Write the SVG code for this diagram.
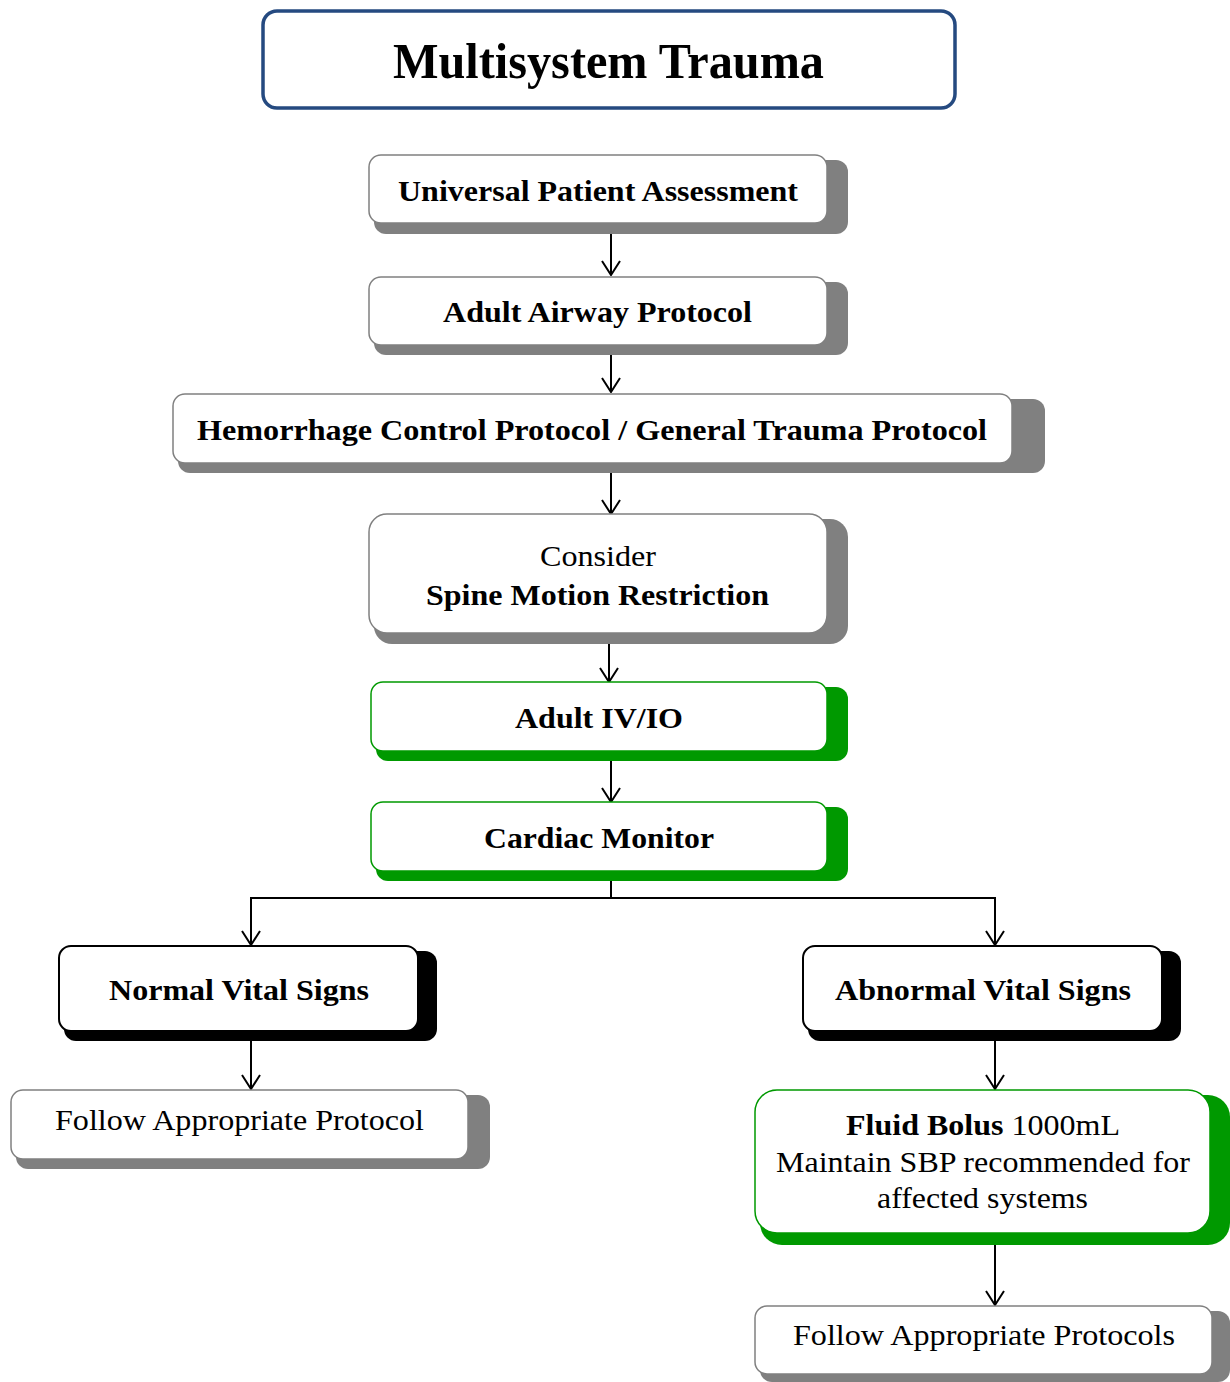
<svg xmlns="http://www.w3.org/2000/svg" width="1230" height="1382" viewBox="0 0 1230 1382">
<defs>
<style>
text{font-family:"Times New Roman","Liberation Serif",Times,serif;fill:#000;text-anchor:middle}
.b{font-weight:bold;font-size:30px}
.r{font-size:30px}
.box{fill:#fff;stroke:#808080;stroke-width:1.5}
.gbox{fill:#fff;stroke:#009900;stroke-width:1.5}
.kbox{fill:#fff;stroke:#000;stroke-width:2}
.sg{fill:#808080}
.sgr{fill:#009900}
.sk{fill:#000}
.ln{fill:none;stroke:#000;stroke-width:2}
</style>
<marker id="ar" viewBox="0 0 16 20" refX="15" refY="10" markerWidth="16" markerHeight="20" markerUnits="userSpaceOnUse" orient="auto">
<path d="M1,1 L15,10 L1,19" fill="none" stroke="#000" stroke-width="2"/>
</marker>
</defs>
<rect width="1230" height="1382" fill="#fff"/>

<g id="title">
<rect x="263" y="11" width="692" height="97" rx="14" fill="#fff" stroke="#254a80" stroke-width="3.5"/>
<text x="608.5" y="78" font-size="50" font-weight="bold" textLength="431" lengthAdjust="spacingAndGlyphs">Multisystem Trauma</text>
</g>

<g id="connectors">
<line class="ln" x1="611" y1="223" x2="611" y2="275" marker-end="url(#ar)"/>
<line class="ln" x1="611" y1="345" x2="611" y2="392" marker-end="url(#ar)"/>
<line class="ln" x1="611" y1="463" x2="611" y2="514" marker-end="url(#ar)"/>
<line class="ln" x1="609" y1="633" x2="609" y2="682" marker-end="url(#ar)"/>
<line class="ln" x1="611" y1="751" x2="611" y2="802" marker-end="url(#ar)"/>
<polyline class="ln" points="611,871 611,898 251,898 251,945" marker-end="url(#ar)"/>
<polyline class="ln" points="611,898 995,898 995,945" marker-end="url(#ar)"/>
<line class="ln" x1="251" y1="1031" x2="251" y2="1089" marker-end="url(#ar)"/>
<line class="ln" x1="995" y1="1031" x2="995" y2="1089" marker-end="url(#ar)"/>
<line class="ln" x1="995" y1="1233" x2="995" y2="1305" marker-end="url(#ar)"/>
</g>

<g id="upa">
<rect class="sg" x="374" y="160" width="474" height="74" rx="12"/>
<rect class="box" x="369" y="155" width="458" height="68" rx="12"/>
<text class="b" x="598" y="201" textLength="400" lengthAdjust="spacingAndGlyphs">Universal Patient Assessment</text>
</g>

<g id="airway">
<rect class="sg" x="374" y="282" width="474" height="73" rx="12"/>
<rect class="box" x="369" y="277" width="458" height="68" rx="12"/>
<text class="b" x="597.5" y="322" textLength="309" lengthAdjust="spacingAndGlyphs">Adult Airway Protocol</text>
</g>

<g id="hemorrhage">
<rect class="sg" x="178" y="399" width="867" height="74" rx="12"/>
<rect class="box" x="173" y="394" width="839" height="69" rx="12"/>
<text class="b" x="592" y="440" textLength="790" lengthAdjust="spacingAndGlyphs">Hemorrhage Control Protocol / General Trauma Protocol</text>
</g>

<g id="spine">
<rect class="sg" x="374" y="519" width="474" height="125" rx="18"/>
<rect class="box" x="369" y="514" width="458" height="119" rx="18"/>
<text class="r" x="598" y="566" textLength="116" lengthAdjust="spacingAndGlyphs">Consider</text>
<text class="b" x="597.5" y="605" textLength="343" lengthAdjust="spacingAndGlyphs">Spine Motion Restriction</text>
</g>

<g id="iv">
<rect class="sgr" x="376" y="687" width="472" height="74" rx="12"/>
<rect class="gbox" x="371" y="682" width="456" height="69" rx="12"/>
<text class="b" x="599" y="728" textLength="168" lengthAdjust="spacingAndGlyphs">Adult IV/IO</text>
</g>

<g id="cardiac">
<rect class="sgr" x="376" y="807" width="472" height="74" rx="12"/>
<rect class="gbox" x="371" y="802" width="456" height="69" rx="12"/>
<text class="b" x="599" y="848" textLength="230" lengthAdjust="spacingAndGlyphs">Cardiac Monitor</text>
</g>

<g id="normal">
<rect class="sk" x="64" y="951" width="373" height="90" rx="12"/>
<rect class="kbox" x="59" y="946" width="359" height="85" rx="12"/>
<text class="b" x="239" y="1000" textLength="260" lengthAdjust="spacingAndGlyphs">Normal Vital Signs</text>
</g>

<g id="abnormal">
<rect class="sk" x="808" y="951" width="373" height="90" rx="12"/>
<rect class="kbox" x="803" y="946" width="359" height="85" rx="12"/>
<text class="b" x="983" y="1000" textLength="296" lengthAdjust="spacingAndGlyphs">Abnormal Vital Signs</text>
</g>

<g id="follow1">
<rect class="sg" x="16" y="1095" width="474" height="74" rx="12"/>
<rect class="box" x="11" y="1090" width="457" height="69" rx="12"/>
<text class="r" x="239.5" y="1130" textLength="369" lengthAdjust="spacingAndGlyphs">Follow Appropriate Protocol</text>
</g>

<g id="fluid">
<rect class="sgr" x="760" y="1095" width="470" height="150" rx="22"/>
<rect class="gbox" x="755" y="1090" width="455" height="143" rx="22"/>
<text class="r" x="983" y="1135" textLength="274" lengthAdjust="spacingAndGlyphs"><tspan font-weight="bold">Fluid Bolus</tspan> 1000mL</text>
<text class="r" x="983" y="1172" textLength="414" lengthAdjust="spacingAndGlyphs">Maintain SBP recommended for</text>
<text class="r" x="982.5" y="1208" textLength="211" lengthAdjust="spacingAndGlyphs">affected systems</text>
</g>

<g id="follow2">
<rect class="sg" x="760" y="1311" width="470" height="71" rx="12"/>
<rect class="box" x="755" y="1306" width="457" height="68" rx="12"/>
<text class="r" x="984" y="1345" textLength="382" lengthAdjust="spacingAndGlyphs">Follow Appropriate Protocols</text>
</g>
</svg>
